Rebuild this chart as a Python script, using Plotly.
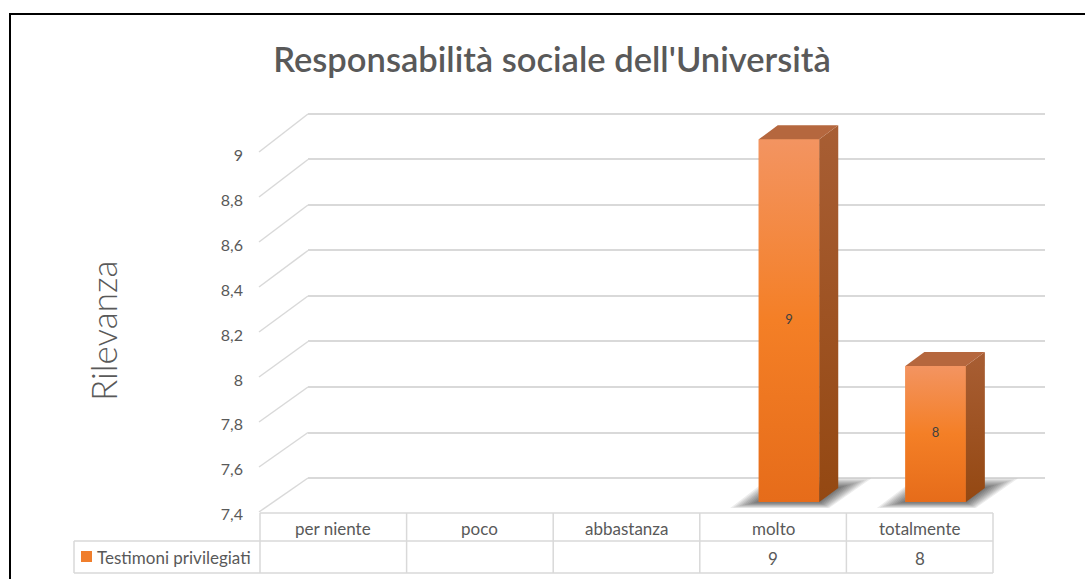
import plotly.graph_objects as go

# ---------------- data ----------------
categories = ["per niente", "poco", "abbastanza", "molto", "totalmente"]
values = [None, None, None, 9, 8]
series_name = "Testimoni privilegiati"
y_ticks = [7.4, 7.6, 7.8, 8.0, 8.2, 8.4, 8.6, 8.8, 9.0]
y_tick_labels = ["7,4", "7,6", "7,8", "8", "8,2", "8,4", "8,6", "8,8", "9"]
chart_title = "Responsabilità sociale dell'Università"
y_title = "Rilevanza"

# ---------------- geometry / style ----------------
W, H = 1085, 579
FONT = "Lato"
TXT = "#595959"
GRID = "#D9D9D9"


def px(x):
    return x / W


def py(y):
    return 1 - y / H


Y_MIN, Y_MAX = y_ticks[0], y_ticks[-1]

# back wall (pixels)
BACK_L, BACK_R, BACK_TOP, BACK_BOT = 308, 1045, 114, 478
BACK_PPU = (BACK_BOT - BACK_TOP) / (Y_MAX - Y_MIN)
PAD = 0.03
# left front edge of the side wall (pixels)
LEFT_X, LEFT_TOP, LEFT_BOT = 259, 152, 512
# tick label column
LAB_TOP, LAB_BOT = 155, 515
# front plane of the bars
FRONT_BASE, PPU = 502, 226.7          # px of Y_MIN, px per unit
CAT_STEP = 146.6
CAT_X0 = 789 - 3 * CAT_STEP           # px centre of category 0
FR_L, FR_R, FR_TOP, FR_BOT = 250, 1060, 105, 514

# table
TAB_X = [260 + k * CAT_STEP for k in range(6)]
TAB_Y = [513, 541, 573]
LEG_L = 74

BAR_W = 60.5 / CAT_STEP
DX = 19 / CAT_STEP
DY = 14 / PPU

x2_range = [(FR_L - CAT_X0) / CAT_STEP, (FR_R - CAT_X0) / CAT_STEP]
y2_range = [Y_MIN - (FR_BOT - FRONT_BASE) / PPU, Y_MIN + (FRONT_BASE - FR_TOP) / PPU]

fig = go.Figure()

# back wall subplot (x / y) - only gridlines
fig.add_trace(go.Scatter(x=[0], y=[Y_MIN], mode="markers", marker=dict(opacity=0),
                         hoverinfo="skip", showlegend=False, xaxis="x", yaxis="y"))

# tick-label subplot (x3 / y3)
fig.add_trace(go.Scatter(x=[0], y=[Y_MIN], mode="markers", marker=dict(opacity=0),
                         hoverinfo="skip", showlegend=False, xaxis="x3", yaxis="y3"))

idx = [i for i, v in enumerate(values) if v is not None]
vals = [values[i] for i in idx]

# bars (front faces)
fig.add_trace(go.Bar(
    x=idx, y=[v - Y_MIN for v in vals], base=Y_MIN, width=BAR_W,
    marker=dict(color="#F07E2C", line=dict(width=0)),
    name=series_name, showlegend=False, xaxis="x2", yaxis="y2",
))

shapes = []
annotations = []

for i, v in zip(idx, vals):
    xl, xr = i - BAR_W / 2, i + BAR_W / 2
    # soft blurred shadow on the floor (stack of translucent parallelograms)
    for k in range(11):
        e = 3.0 * k                     # expansion in pixels
        ex_l = 0.95 * e / CAT_STEP
        ex_r = 1.1 * e / CAT_STEP
        ey_f = 0.20 * e / PPU
        ey_b = 0.32 * e / PPU
        yb = Y_MIN - ey_f
        yt = Y_MIN + DY + ey_b
        path = (f"M {xl - ex_l},{yb} L {xr + 0.3 * ex_r},{yb} "
                f"L {xr + DX + ex_r},{yt} L {xl + DX - 0.3 * ex_l},{yt} Z")
        shapes.append(dict(type="path", path=path, xref="x2", yref="y2",
                           fillcolor="rgba(20,20,20,0.075)", line=dict(width=0),
                           layer="below"))
    # front gradient overlay
    fig.add_trace(go.Scatter(
        x=[xl, xr, xr, xl, xl], y=[Y_MIN, Y_MIN, v, v, Y_MIN], mode="lines",
        fill="toself", line=dict(width=0, color="rgba(0,0,0,0)"),
        fillgradient=dict(type="vertical",
                          colorscale=[[0, "#E66C1A"], [0.5, "#F47F26"], [1, "#F39461"]]),
        hoverinfo="skip", showlegend=False, xaxis="x2", yaxis="y2"))
    # side face
    fig.add_trace(go.Scatter(
        x=[xr, xr + DX, xr + DX, xr, xr], y=[Y_MIN, Y_MIN + DY, v + DY, v, Y_MIN],
        mode="lines", fill="toself", line=dict(width=0, color="rgba(0,0,0,0)"),
        fillgradient=dict(type="vertical",
                          colorscale=[[0, "#944812"], [1, "#A85E34"]]),
        hoverinfo="skip", showlegend=False, xaxis="x2", yaxis="y2"))
    # top face
    fig.add_trace(go.Scatter(
        x=[xl, xr, xr + DX, xl + DX, xl], y=[v, v, v + DY, v + DY, v],
        mode="lines", fill="toself", line=dict(width=0, color="rgba(0,0,0,0)"),
        fillcolor="#B5673E", hoverinfo="skip", showlegend=False,
        xaxis="x2", yaxis="y2"))

# data labels
fig.add_trace(go.Scatter(
    x=idx, y=[(v + Y_MIN) / 2 for v in vals], mode="text",
    text=[str(v) for v in vals], textfont=dict(family=FONT, size=13, color="#404040"),
    hoverinfo="skip", showlegend=False, xaxis="x2", yaxis="y2"))

# side-wall diagonals (from the label column to the back wall)
for t in y_ticks:
    y_left = LEFT_BOT - (t - Y_MIN) / (Y_MAX - Y_MIN) * (LEFT_BOT - LEFT_TOP)
    y_back = BACK_BOT - (t - Y_MIN) * BACK_PPU
    shapes.append(dict(type="line", xref="paper", yref="paper",
                       x0=px(LEFT_X), y0=py(y_left), x1=px(BACK_L), y1=py(y_back),
                       line=dict(color=GRID, width=1.5), layer="below"))

# data table
LW = 1.5
shapes.append(dict(type="line", xref="paper", yref="paper", x0=px(TAB_X[0]), x1=px(TAB_X[-1]),
                   y0=py(TAB_Y[0]), y1=py(TAB_Y[0]), line=dict(color=GRID, width=LW)))
shapes.append(dict(type="line", xref="paper", yref="paper", x0=px(LEG_L), x1=px(TAB_X[-1]),
                   y0=py(TAB_Y[1]), y1=py(TAB_Y[1]), line=dict(color=GRID, width=LW)))
shapes.append(dict(type="line", xref="paper", yref="paper", x0=px(LEG_L), x1=px(TAB_X[-1]),
                   y0=py(TAB_Y[2]), y1=py(TAB_Y[2]), line=dict(color=GRID, width=LW)))
for xx in TAB_X:
    shapes.append(dict(type="line", xref="paper", yref="paper", x0=px(xx), x1=px(xx),
                       y0=py(TAB_Y[0]), y1=py(TAB_Y[2]), line=dict(color=GRID, width=LW)))
shapes.append(dict(type="line", xref="paper", yref="paper", x0=px(LEG_L), x1=px(LEG_L),
                   y0=py(TAB_Y[1]), y1=py(TAB_Y[2]), line=dict(color=GRID, width=LW)))

for k, c in enumerate(categories):
    cx = (TAB_X[k] + TAB_X[k + 1]) / 2
    annotations.append(dict(x=px(cx), y=py((TAB_Y[0] + TAB_Y[1]) / 2 + 1), xref="paper", yref="paper",
                            text=c, showarrow=False, xanchor="center", yanchor="middle",
                            font=dict(family=FONT, size=17, color=TXT)))
    if values[k] is not None:
        annotations.append(dict(x=px(cx), y=py((TAB_Y[1] + TAB_Y[2]) / 2 + 1), xref="paper", yref="paper",
                                text=str(values[k]), showarrow=False, xanchor="center",
                                yanchor="middle", font=dict(family=FONT, size=17, color=TXT)))

# legend key in table
shapes.append(dict(type="rect", xref="paper", yref="paper", x0=px(81), x1=px(92),
                   y0=py(562), y1=py(551), fillcolor="#F07E2C", line=dict(width=0)))
annotations.append(dict(x=px(95), y=py(557), xref="paper", yref="paper", text=series_name,
                        showarrow=False, xanchor="left", yanchor="middle",
                        font=dict(family=FONT, size=17, color=TXT)))

# axis title
annotations.append(dict(x=px(103), y=py(331), xref="paper", yref="paper", text=y_title,
                        showarrow=False, textangle=-90, xanchor="center", yanchor="middle",
                        font=dict(family=FONT, size=35, color=TXT, weight=300)))

# outer frame
shapes.append(dict(type="rect", xref="paper", yref="paper", x0=px(10), y0=py(14),
                   x1=px(W + 10), y1=py(H + 10), line=dict(color="#000000", width=2),
                   fillcolor="rgba(0,0,0,0)"))

fig.update_layout(
    width=W, height=H,
    margin=dict(l=0, r=0, t=0, b=0, pad=0, autoexpand=False),
    paper_bgcolor="white", plot_bgcolor="rgba(0,0,0,0)",
    separators=",.",
    showlegend=False,
    title=dict(text=chart_title, x=px(552), y=py(60), xanchor="center", yanchor="middle",
               xref="paper", yref="paper",
               font=dict(family=FONT, size=34.5, color=TXT, weight=600)),
    # back wall
    xaxis=dict(domain=[px(BACK_L), px(BACK_R)], range=[0, 1], visible=False),
    yaxis=dict(domain=[py(BACK_BOT + PAD * BACK_PPU), py(BACK_TOP - PAD * BACK_PPU)],
               range=[Y_MIN - PAD, Y_MAX + PAD],
               anchor="x", tickvals=y_ticks, showticklabels=False, ticks="",
               showgrid=True, gridcolor=GRID, gridwidth=2, zeroline=False, showline=False),
    # bars (front plane)
    xaxis2=dict(domain=[px(FR_L), px(FR_R)], range=x2_range, visible=False, anchor="y2"),
    yaxis2=dict(domain=[py(FR_BOT), py(FR_TOP)], range=y2_range, visible=False, anchor="x2"),
    # tick labels
    xaxis3=dict(domain=[px(244), px(247)], range=[0, 1], visible=False, anchor="y3"),
    yaxis3=dict(domain=[py(LAB_BOT), py(LAB_TOP)], range=[Y_MIN - 0.001, Y_MAX + 0.001],
                anchor="x3", tickvals=y_ticks, ticktext=y_tick_labels, ticks="",
                showgrid=False, zeroline=False, showline=False,
                tickfont=dict(family=FONT, size=16, color=TXT)),
    shapes=shapes,
    annotations=annotations,
)

fig.write_html("out.html")
